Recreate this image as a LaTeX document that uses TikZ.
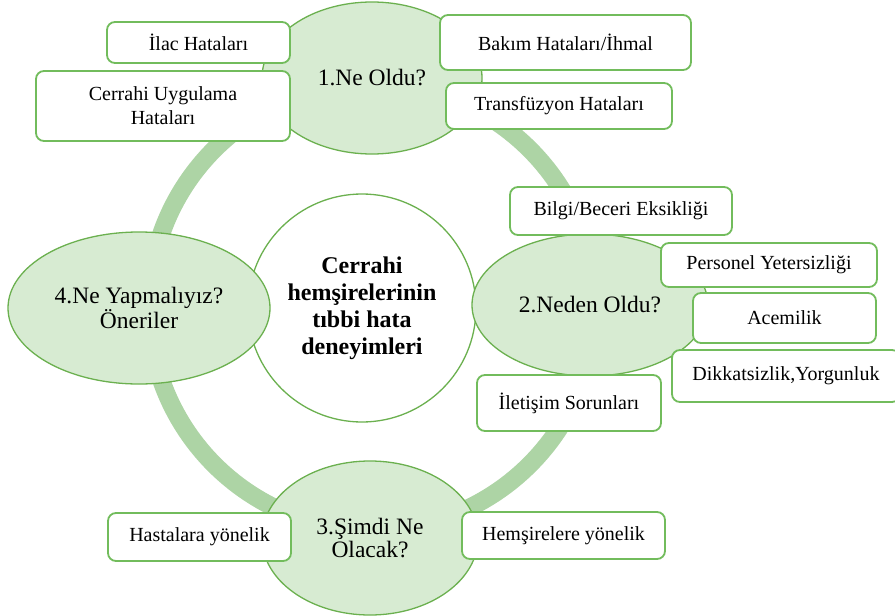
\documentclass[tikz,border=0pt]{standalone}
\usepackage{fontspec}
\IfFontExistsTF{LiberationSerif-Regular.ttf}
  {\setmainfont{LiberationSerif-Regular.ttf}[BoldFont=LiberationSerif-Bold.ttf]}
  {\setmainfont{Liberation Serif}[UprightFont=* Regular, BoldFont=* Bold]}
\usetikzlibrary{shapes.geometric}
\definecolor{ringg}{HTML}{ADD4A5}
\definecolor{edgeg}{HTML}{6BB04F}
\definecolor{fillg}{HTML}{D7EBD2}
\definecolor{boxg}{HTML}{72BC5C}
\begin{document}
\begin{tikzpicture}[x=1pt,y=-1pt,
  topic/.style={ellipse, draw=edgeg, fill=fillg, line width=1.3pt, inner sep=0pt,
    align=center, font=\fontsize{23.5}{23}\selectfont},
  itembox/.style={draw=boxg, fill=white, rounded corners=8pt, line width=1.8pt,
    align=center, font=\fontsize{20}{24}\selectfont, inner sep=0pt}]
\useasboundingbox (0,0) rectangle (895,616);
% ring
\node (ring) [circle, draw=ringg, line width=18pt, minimum size=446pt, inner sep=0pt] at (372,307) {};
% centre
\node (core) [circle, draw=edgeg, fill=white, minimum size=228pt, inner sep=0pt, line width=1.3pt,
  align=center, font=\bfseries\fontsize{24}{27}\selectfont] at (362,308)
  {Cerrahi\\hemşirelerinin\\tıbbi hata\\deneyimleri};
% topics
\node (t1) [topic, minimum width=220pt, minimum height=152pt] at (372,78) {1.Ne Oldu?};
\node (t2) [topic, minimum width=236pt, minimum height=142pt] at (590,305) {2.Neden Oldu?};
\node (t3) [topic, minimum width=216pt, minimum height=154pt] at (370,538) {3.Şimdi Ne\\Olacak?};
\node (t4) [topic, minimum width=262pt, minimum height=152pt] at (139,308) {4.Ne Yapmalıyız?\\Öneriler};
% boxes
\node (b1) [itembox, minimum width=183pt, minimum height=41pt] at (198.5,42.5) {İlac Hataları};
\node (b2) [itembox, minimum width=254pt, minimum height=70pt] at (163,106) {Cerrahi Uygulama\\Hataları};
\node (b3) [itembox, minimum width=251pt, minimum height=55pt] at (565.5,42.5) {Bakım Hataları/İhmal};
\node (b4) [itembox, minimum width=226pt, minimum height=46pt] at (559,106) {Transfüzyon Hataları};
\node (b5) [itembox, minimum width=222pt, minimum height=48pt] at (621,211) {Bilgi/Beceri Eksikliği};
\node (b6) [itembox, minimum width=216pt, minimum height=44pt] at (769,265) {Personel Yetersizliği};
\node (b7) [itembox, minimum width=183pt, minimum height=50pt] at (784.5,318) {Acemilik};
\node (b8) [itembox, minimum width=228pt, minimum height=52pt] at (786,376) {Dikkatsizlik,Yorgunluk};
\node (b9) [itembox, minimum width=184pt, minimum height=56pt] at (569,403) {İletişim Sorunları};
\node (b10) [itembox, minimum width=183pt, minimum height=48pt] at (199.5,537) {Hastalara yönelik};
\node (b11) [itembox, minimum width=203pt, minimum height=47pt] at (563.5,535.5) {Hemşirelere yönelik};
\end{tikzpicture}
\end{document}
